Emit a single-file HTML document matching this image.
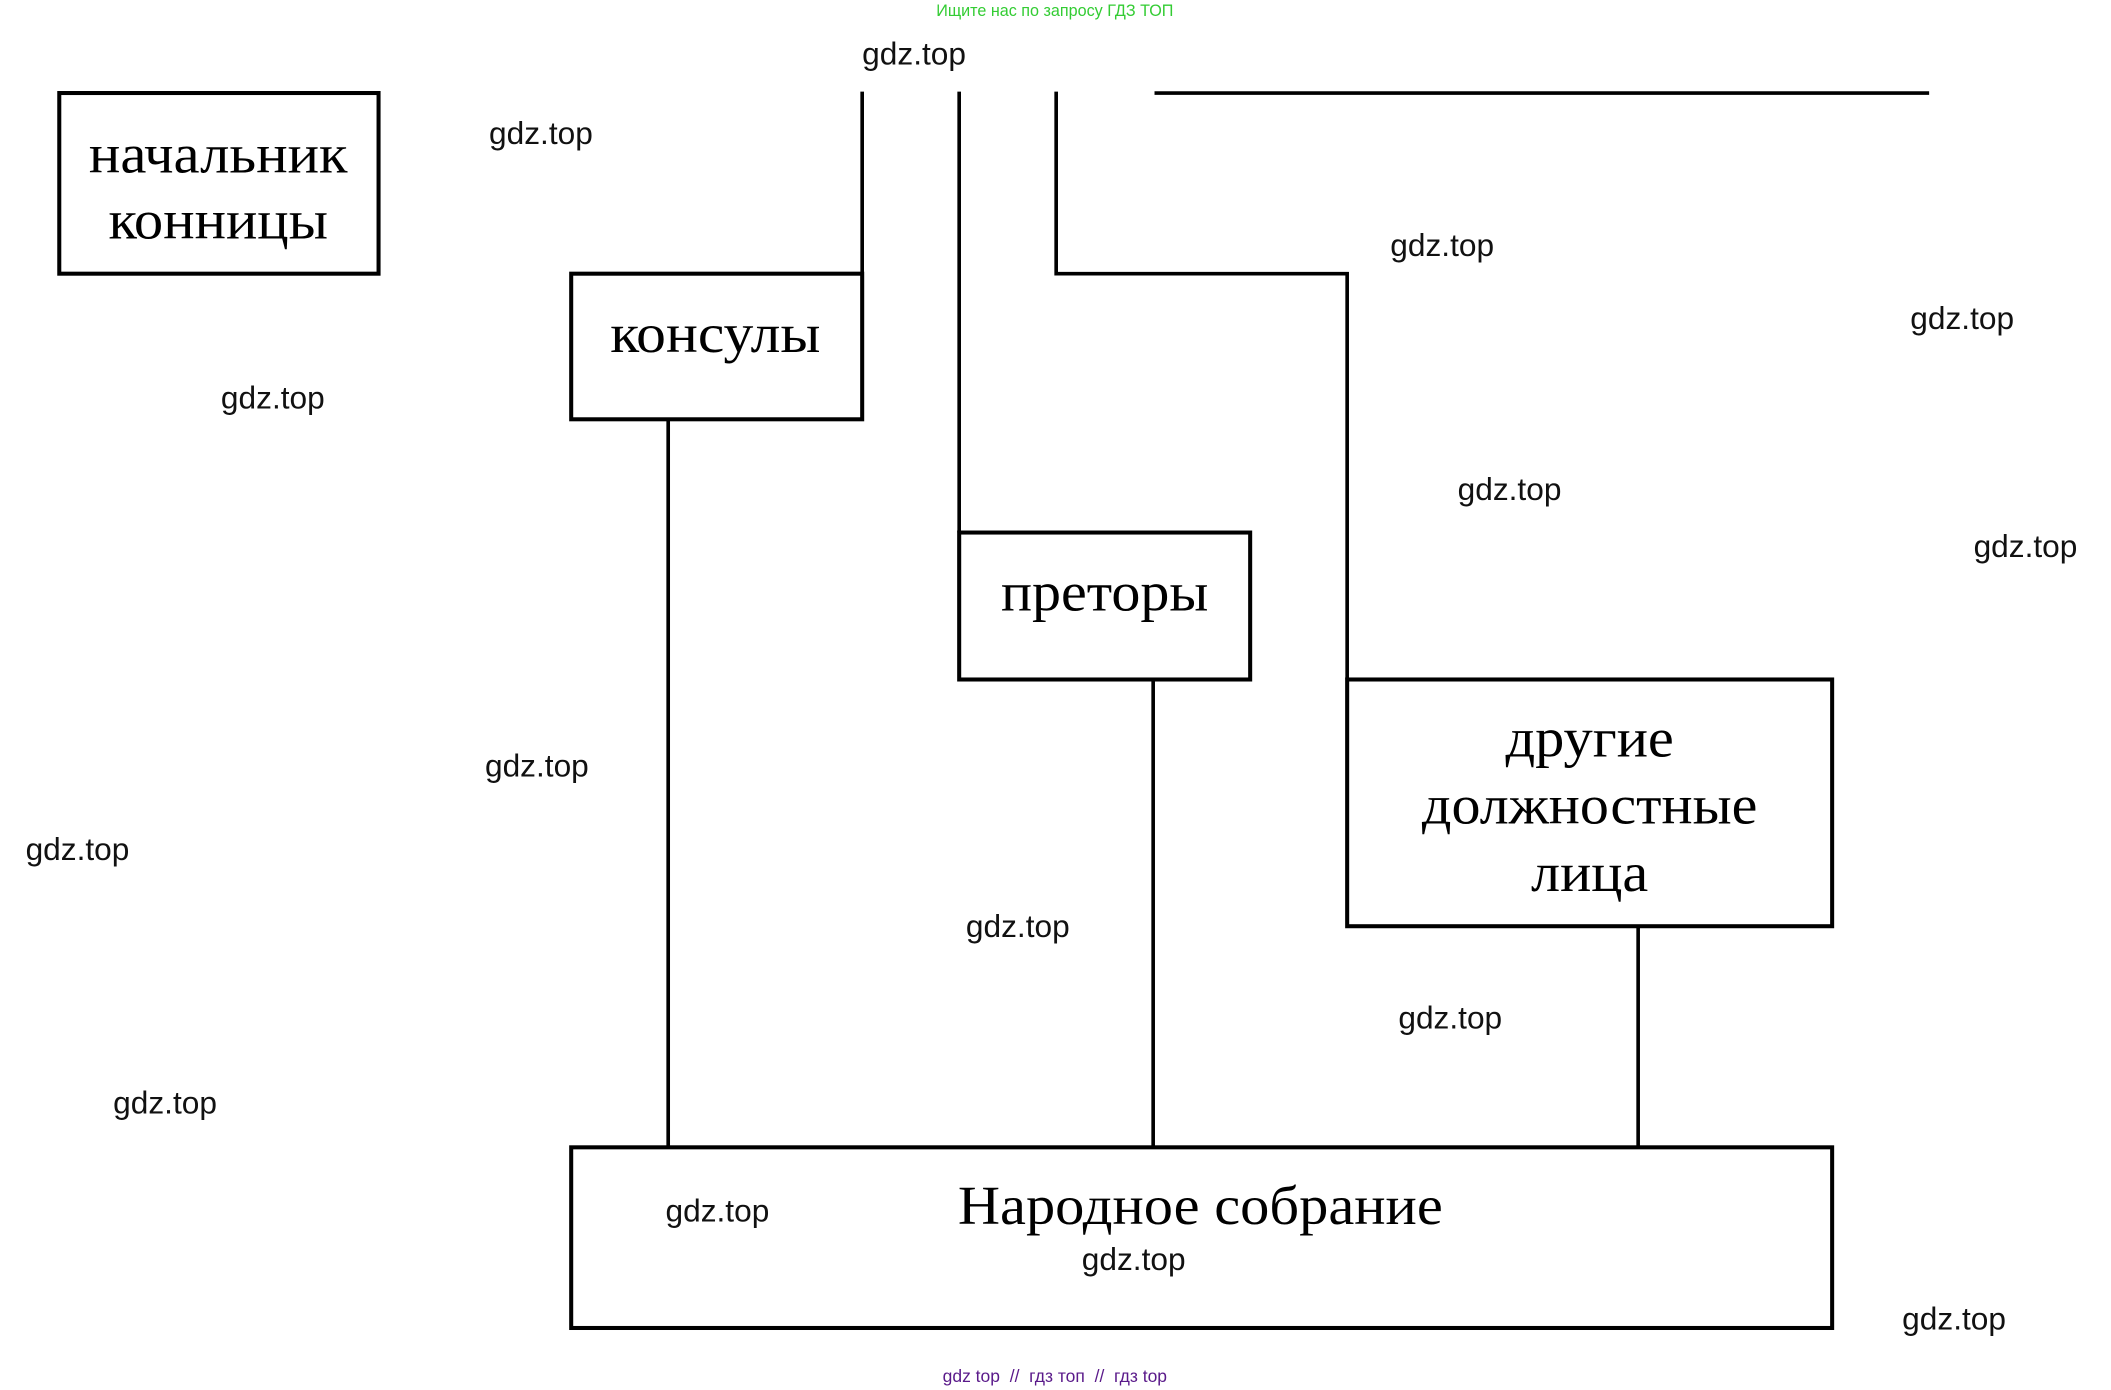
<!DOCTYPE html>
<html><head><meta charset="utf-8"><style>
html,body{margin:0;padding:0;background:#fff;}
svg{display:block;}
.s{font-family:"Liberation Serif","Noto Serif CJK SC",serif;font-size:41px;fill:#000;text-anchor:middle;}
.w{font-family:"Liberation Sans",sans-serif;font-size:23.5px;fill:#111;}
</style></head><body>
<svg width="2111" height="1390" viewBox="0 0 1567 1031" preserveAspectRatio="none" xmlns="http://www.w3.org/2000/svg">
<rect width="1567" height="1031" fill="#fff"/>
<text x="783" y="12" font-family="Liberation Sans,sans-serif" font-size="12" fill="#33cc33" text-anchor="middle">Ищите нас по запросу ГДЗ ТОП</text>
<g fill="none" stroke="#000" stroke-width="3">
<rect x="44" y="69" width="237" height="134"/>
<rect x="424" y="203" width="216" height="108"/>
<rect x="712" y="395" width="216" height="109"/>
<rect x="1000" y="504" width="360" height="183"/>
<rect x="424" y="851" width="936" height="134"/>
</g>
<g stroke="#000" stroke-width="2.7" fill="none">
<line x1="640" y1="68" x2="640" y2="203"/>
<line x1="712" y1="68" x2="712" y2="395"/>
<polyline points="784,68 784,203 1000,203 1000,504"/>
<line x1="857" y1="69" x2="1432" y2="69"/>
<line x1="496" y1="311" x2="496" y2="851"/>
<line x1="856" y1="504" x2="856" y2="851"/>
<line x1="1216" y1="687" x2="1216" y2="851"/>
</g>
<text class="s" x="162" y="128" textLength="192" lengthAdjust="spacingAndGlyphs">начальник</text>
<text class="s" x="162" y="177" textLength="163" lengthAdjust="spacingAndGlyphs">конницы</text>
<text class="s" x="531" y="261" textLength="156" lengthAdjust="spacingAndGlyphs">консулы</text>
<text class="s" x="820" y="453" textLength="154" lengthAdjust="spacingAndGlyphs">преторы</text>
<text class="s" x="1180" y="561" textLength="125" lengthAdjust="spacingAndGlyphs">другие</text>
<text class="s" x="1180" y="611" textLength="249" lengthAdjust="spacingAndGlyphs">должностные</text>
<text class="s" x="1180" y="661" textLength="87" lengthAdjust="spacingAndGlyphs">лица</text>
<text class="s" x="891" y="908" textLength="360" lengthAdjust="spacingAndGlyphs">Народное собрание</text>
<g class="w">
<text x="640" y="48">gdz.top</text>
<text x="363" y="107">gdz.top</text>
<text x="1032" y="190">gdz.top</text>
<text x="1418" y="244">gdz.top</text>
<text x="164" y="303">gdz.top</text>
<text x="1082" y="371">gdz.top</text>
<text x="1465" y="413">gdz.top</text>
<text x="360" y="576">gdz.top</text>
<text x="19" y="638">gdz.top</text>
<text x="717" y="695">gdz.top</text>
<text x="1038" y="763">gdz.top</text>
<text x="84" y="826">gdz.top</text>
<text x="494" y="906">gdz.top</text>
<text x="803" y="942">gdz.top</text>
<text x="1412" y="986">gdz.top</text>
</g>
<text x="783" y="1025" font-family="Liberation Sans,sans-serif" font-size="13" fill="#5a1a8a" text-anchor="middle" xml:space="preserve">gdz top  //  гдз топ  //  гдз top</text>
</svg>
</body></html>
